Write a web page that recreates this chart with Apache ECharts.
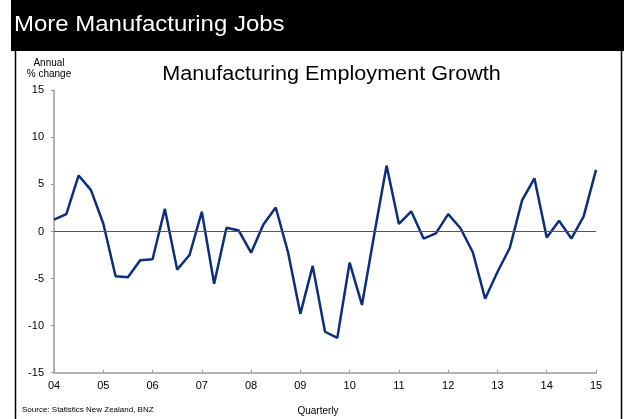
<!DOCTYPE html>
<html>
<head>
<meta charset="utf-8">
<script src="https://cdn.jsdelivr.net/npm/echarts@6/dist/echarts.min.js"></script>
<style>
html,body{margin:0;padding:0;background:#fff;}
#chart{width:624px;height:419px;}
</style>
</head>
<body>
<div id="chart"></div>
<script>
var yearLabels = ["04","05","06","07","08","09","10","11","12","13","14","15"];
var quarterNames = ["Q1","Q2","Q3","Q4"];
var growth = [1.25, 1.85, 5.95, 4.4, 0.85, -4.75, -4.85, -3.05, -2.95, 2.4,
              -4.05, -2.5, 2.1, -5.55, 0.4, 0.1, -2.25, 0.75, 2.55, -2.2,
              -8.75, -3.65, -10.65, -11.3, -3.3, -7.8, -0.3, 7.0, 0.8, 2.15,
              -0.75, -0.2, 1.85, 0.35, -2.2, -7.15, -4.3, -1.75, 3.3, 5.65,
              -0.65, 1.15, -0.75, 1.6, 6.55];
var yTicks = {min: -15, max: 15, step: 5};

var categories = [];
yearLabels.forEach(function (y) {
  quarterNames.forEach(function (q) {
    if (categories.length < growth.length) categories.push(y + " " + q);
  });
});

var chart = echarts.init(document.getElementById('chart'), null, {renderer: 'canvas'});
var FONT = '"Liberation Sans", Arial, sans-serif';
chart.setOption({
  animation: false,
  backgroundColor: '#ffffff',
  textStyle: {fontFamily: FONT},
  graphic: [
    {type: 'rect', shape: {x: 11, y: 0, width: 613, height: 51}, style: {fill: '#000'}, silent: true},
    {type: 'line', shape: {x1: 15.5, y1: 51, x2: 15.5, y2: 419}, style: {stroke: '#000', lineWidth: 1.5}, silent: true},
    {type: 'line', shape: {x1: 621.5, y1: 51, x2: 621.5, y2: 419}, style: {stroke: '#000', lineWidth: 1.5}, silent: true},
    {type: 'text', x: 14, y: 24.5, scaleX: 1.09, style: {text: 'More Manufacturing Jobs', fill: '#fff', font: '22px ' + FONT, align: 'left', verticalAlign: 'middle'}},
    {type: 'text', x: 49, y: 63, style: {text: 'Annual', fill: '#000', font: '10px ' + FONT, align: 'center', verticalAlign: 'middle'}},
    {type: 'text', x: 49, y: 74, style: {text: '% change', fill: '#000', font: '10px ' + FONT, align: 'center', verticalAlign: 'middle'}},
    {type: 'text', x: 331.5, y: 74, scaleX: 1.08, style: {text: 'Manufacturing Employment Growth', fill: '#000', font: '20px ' + FONT, align: 'center', verticalAlign: 'middle'}},
    {type: 'text', x: 22, y: 410, style: {text: 'Source: Statistics New Zealand, BNZ', fill: '#000', font: '8px ' + FONT, align: 'left', verticalAlign: 'middle'}},
    {type: 'text', x: 318, y: 411, style: {text: 'Quarterly', fill: '#000', font: '10px ' + FONT, align: 'center', verticalAlign: 'middle'}}
  ],
  grid: {left: 54, right: 28, top: 90.3, bottom: 46.3, containLabel: false},
  xAxis: {
    type: 'category',
    data: categories,
    boundaryGap: false,
    axisLine: {onZero: false, lineStyle: {color: '#b3b3b3', width: 2}},
    axisTick: {show: true, inside: true, length: 3, interval: 3, lineStyle: {color: '#999', width: 1}},
    axisLabel: {
      interval: 3, margin: 8, color: '#000', fontSize: 11, fontFamily: FONT,
      formatter: function (v) { return v.split(' ')[0]; }
    },
    splitLine: {show: false}
  },
  yAxis: {
    type: 'value',
    min: yTicks.min, max: yTicks.max, interval: yTicks.step,
    axisLine: {show: true, lineStyle: {color: '#b3b3b3', width: 2}},
    axisTick: {show: true, inside: false, length: 3, lineStyle: {color: '#999', width: 1}},
    axisLabel: {margin: 10, color: '#000', fontSize: 11, fontFamily: FONT},
    splitLine: {show: false}
  },
  series: [{
    type: 'line',
    data: growth,
    symbol: 'none',
    lineStyle: {color: '#0b2f7d', width: 2.5},
    markLine: {
      silent: true, symbol: 'none', label: {show: false},
      lineStyle: {color: '#555', width: 1.2, type: 'solid'},
      data: [{yAxis: 0}]
    },
    z: 3
  }]
});
</script>
</body>
</html>
